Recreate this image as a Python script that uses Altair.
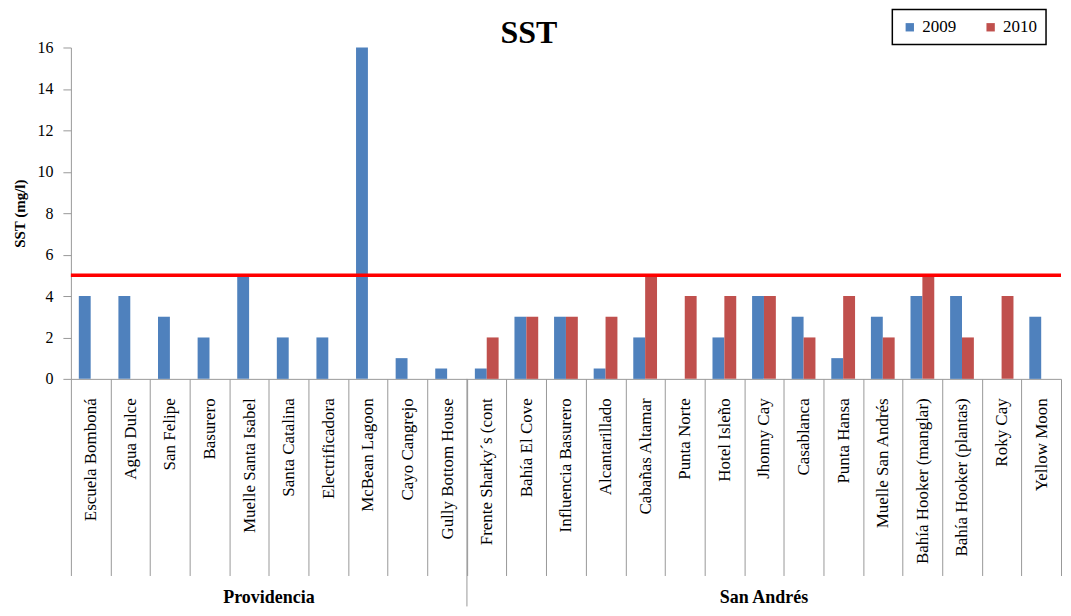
import altair as alt
import pandas as pd

title_text = "SST"
sites = [
    "Escuela Bomboná", "Agua Dulce", "San Felipe", "Basurero", "Muelle Santa Isabel",
    "Santa Catalina", "Electrificadora", "McBean Lagoon", "Cayo Cangrejo", "Gully Bottom House",
    "Frente Sharky´s (cont", "Bahía El Cove", "Influencia Basurero", "Alcantarillado",
    "Cabañas Altamar", "Punta Norte", "Hotel Isleño", "Jhonny Cay", "Casablanca",
    "Punta Hansa", "Muelle San Andrés", "Bahía Hooker (manglar)", "Bahía Hooker (plantas)",
    "Roky Cay", "Yellow Moon",
]
v2009 = [4, 4, 3, 2, 5, 2, 2, 16, 1, 0.5,
         0.5, 3, 3, 0.5, 2, None, 2, 4, 3, 1, 3, 4, 4, None, 3]
v2010 = [None, None, None, None, None, None, None, None, None, None,
         2, 3, 3, 3, 5, 4, 4, 4, 2, 4, 2, 5, 2, 4, None]
years = ["2009", "2010"]
colors = ["#4F81BD", "#C0504D"]
group_names = ["Providencia", "San Andrés"]
group_anchor_sites = ["Muelle Santa Isabel", "Jhonny Cay"]
group_anchor_band = [1.0, 0.5]
separator_site = "Gully Bottom House"
limit_value = 5

rows = []
for s, a, b in zip(sites, v2009, v2010):
    if a is not None:
        rows.append({"site": s, "year": "2009", "value": a})
    if b is not None:
        rows.append({"site": s, "year": "2010", "value": b})
df = pd.DataFrame(rows)

FONT = "Liberation Serif, Times New Roman, serif"
W, H = 992, 332

xscale = alt.Scale(domain=sites, paddingInner=0, paddingOuter=0)

bars = alt.Chart(df).mark_bar().encode(
    x=alt.X("site:N", sort=sites, scale=xscale, title=None,
            axis=alt.Axis(labelAngle=-90, labelAlign="right", labelBaseline="middle",
                          tickBand="extent", tickSize=197, labelPadding=-178,
                          labelFont=FONT, labelFontSize=17, labelColor="#000",
                          tickColor="#999", domainColor="#999", labelLimit=300)),
    xOffset=alt.XOffset("year:N", scale=alt.Scale(domain=years, paddingOuter=0.667, paddingInner=0)),
    y=alt.Y("value:Q", scale=alt.Scale(domain=[0, 16], nice=False),
            axis=alt.Axis(values=list(range(0, 17, 2)), grid=False, title="SST (mg/l)",
                          titleFont=FONT, titleFontSize=15, titleFontWeight="bold",
                          titlePadding=9, labelFont=FONT, labelFontSize=16, labelColor="#000",
                          labelPadding=10, tickSize=8, tickColor="#999", domainColor="#999")),
    color=alt.Color("year:N", scale=alt.Scale(domain=years, range=colors),
                    legend=alt.Legend(title=None, orient="none", legendX=823, legendY=-38,
                                      direction="horizontal", strokeColor="black",
                                      padding=9, symbolType="square", symbolSize=70,
                                      symbolStrokeWidth=0, labelFont=FONT, labelFontSize=17,
                                      columnPadding=26, labelColor="#000")),
)

limit = alt.Chart(pd.DataFrame({"v": [limit_value]})).mark_rule(color="#FF0000", strokeWidth=3.5).encode(
    y=alt.Y("v:Q")
)

sep = alt.Chart(pd.DataFrame({"site": [separator_site]})).mark_rule(color="#999", strokeWidth=1).encode(
    x=alt.X("site:N", bandPosition=1),
    y=alt.value(H),
    y2=alt.value(H + 228),
)

glabels = []
for name, s, bp in zip(group_names, group_anchor_sites, group_anchor_band):
    glabels.append(
        alt.Chart(pd.DataFrame({"site": [s], "label": [name]})).mark_text(
            font=FONT, fontSize=18, fontWeight="bold", color="#000", baseline="middle", align="center"
        ).encode(
            x=alt.X("site:N", bandPosition=bp),
            y=alt.value(H + 220),
            text="label:N",
        )
    )

title = alt.Chart(pd.DataFrame({"t": [title_text]})).mark_text(
    font=FONT, fontSize=32, fontWeight="bold", color="#000", baseline="alphabetic", align="center"
).encode(x=alt.value(459), y=alt.value(-5), text="t:N")

chart = alt.layer(bars, limit, sep, *glabels, title).properties(
    width=W, height=H,
    padding={"left": 5, "top": 0, "right": 0, "bottom": 0},
).configure_view(stroke=None).configure_legend(strokeWidth=1.5).configure_axis(
    labelFont=FONT, titleFont=FONT
).configure_text(font=FONT)

chart.save("out.html", embed_options={"renderer": "svg", "actions": False})
